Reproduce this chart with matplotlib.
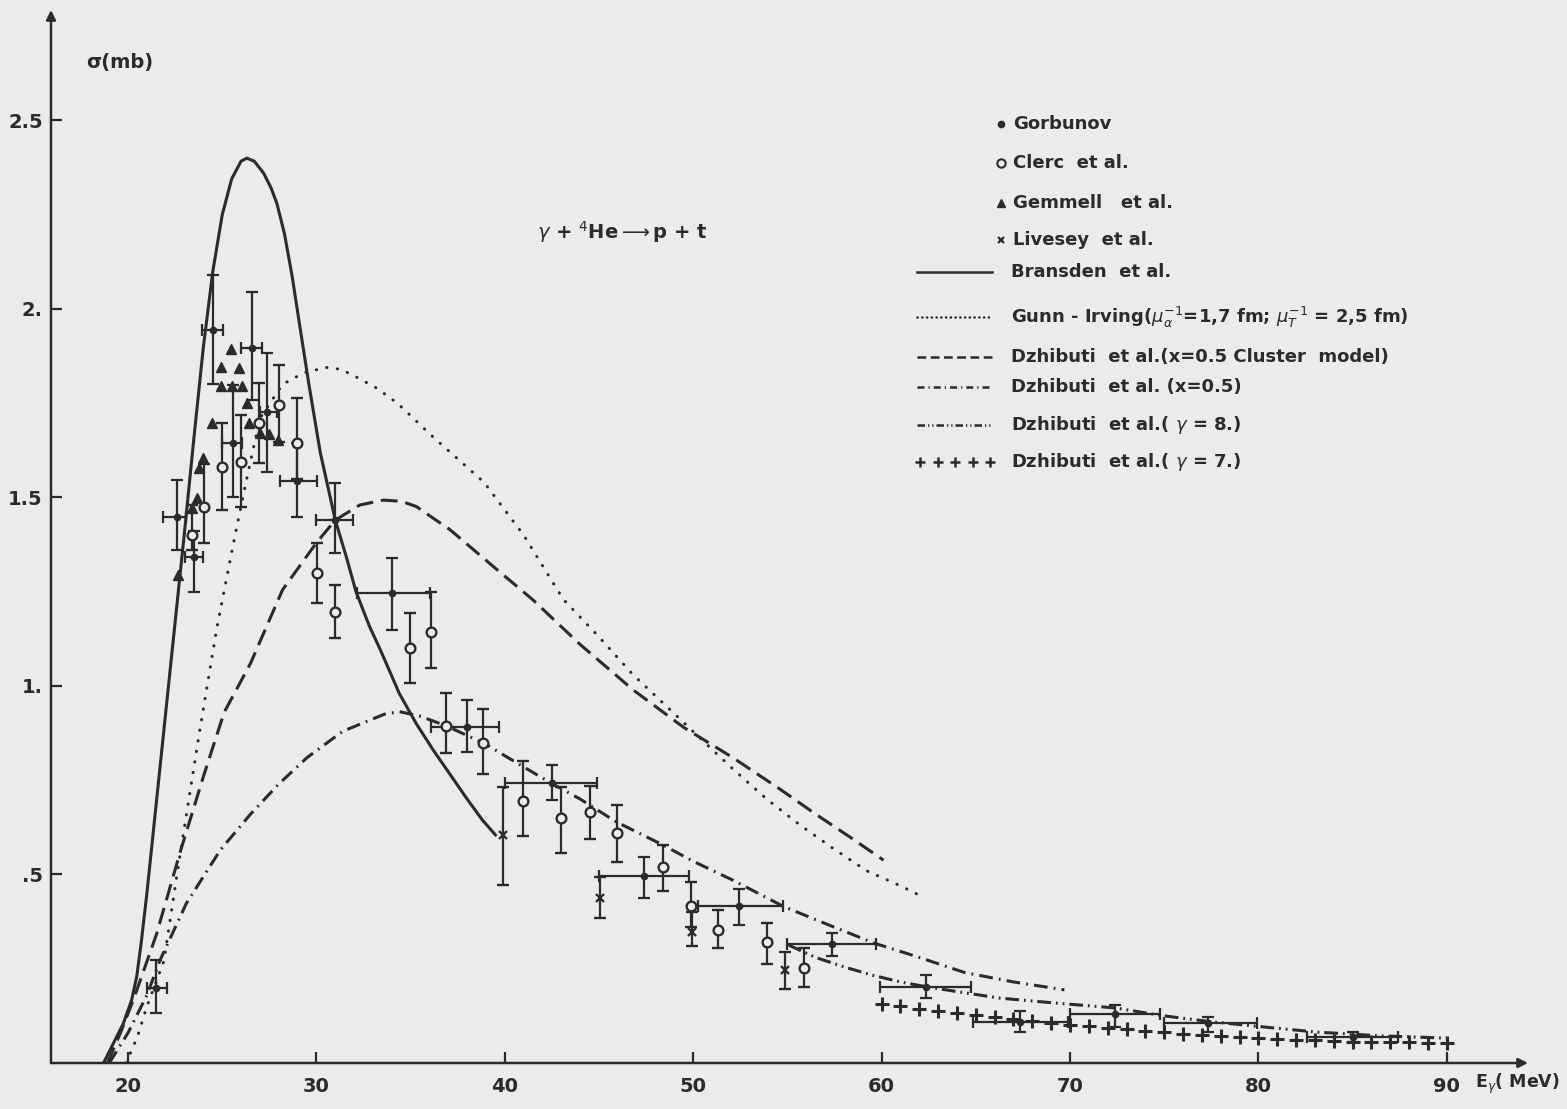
import numpy as np
import matplotlib.pyplot as plt
from matplotlib.lines import Line2D

plt.rcParams['font.family'] = ['DejaVu Sans']

ink = '#2b2b2b'
paper = '#ebebeb'

# ---- measured points -------------------------------------------------
# Gorbunov: energy, cross section, energy bin edges, sigma error limits
gor_E = [21.5, 22.58, 23.52, 24.53, 25.55, 26.57, 27.4, 28.95, 30.99, 34.0,
         37.98, 42.49, 47.4, 52.45, 57.35, 62.36, 67.35, 72.39, 77.35, 85.0]
gor_s = [0.20, 1.449, 1.343, 1.944, 1.645, 1.896, 1.726, 1.545, 1.44, 1.246,
         0.892, 0.744, 0.496, 0.416, 0.315, 0.202, 0.11, 0.13, 0.105, 0.068]
gor_E_lo = [20.99, 21.88, 23.03, 23.9, 24.97, 25.98, 27.0, 28.07, 30.0, 32.14,
            36.1, 40.01, 45.0, 50.27, 55.0, 59.9, 64.87, 70.0, 75.0, 82.6]
gor_E_hi = [22.05, 23.1, 24.0, 25.06, 26.03, 27.1, 27.9, 30.01, 31.96, 36.03,
            39.7, 44.88, 49.8, 54.78, 59.7, 64.73, 69.9, 74.8, 79.9, 87.4]
gor_s_lo = [0.132, 1.36, 1.25, 1.80, 1.502, 1.759, 1.568, 1.449, 1.352, 1.148,
            0.826, 0.698, 0.438, 0.366, 0.284, 0.172, 0.083, 0.096, 0.083, 0.055]
gor_s_hi = [0.273, 1.546, 1.41, 2.09, 1.798, 2.046, 1.883, 1.644, 1.538, 1.339,
            0.963, 0.79, 0.547, 0.461, 0.346, 0.233, 0.138, 0.154, 0.123, 0.082]

# Clerc et al.
clerc_E = [23.38, 24.05, 24.97, 25.98, 26.97, 28.02, 28.95, 30.01, 30.99, 34.97,
           36.08, 36.86, 38.86, 40.98, 42.97, 44.52, 45.94, 48.41, 49.88, 51.33,
           53.9, 55.9]
clerc_s = [1.40, 1.476, 1.58, 1.593, 1.697, 1.745, 1.644, 1.299, 1.197, 1.10,
           1.144, 0.894, 0.85, 0.695, 0.649, 0.665, 0.611, 0.519, 0.416, 0.353,
           0.322, 0.251]
clerc_lo = [1.36, 1.379, 1.467, 1.476, 1.591, 1.648, 1.55, 1.219, 1.126, 1.007,
            1.049, 0.821, 0.767, 0.602, 0.556, 0.593, 0.534, 0.456, 0.36, 0.304,
            0.263, 0.201]
clerc_hi = [1.48, 1.59, 1.697, 1.719, 1.803, 1.851, 1.763, 1.378, 1.268, 1.194,
            1.25, 0.982, 0.94, 0.80, 0.733, 0.735, 0.684, 0.578, 0.481, 0.406,
            0.371, 0.304]

# Gemmell et al.
gem_E = [25.47, 24.92, 25.91, 24.92, 25.54, 26.07, 26.3, 24.46, 26.42, 27.0,
         27.5, 27.98, 23.96, 23.78, 23.65, 23.38, 22.67]
gem_s = [1.894, 1.847, 1.843, 1.796, 1.796, 1.796, 1.75, 1.697, 1.697, 1.672,
         1.668, 1.653, 1.604, 1.577, 1.498, 1.471, 1.294]

# Livesey et al.
liv_E = [39.89, 45.05, 49.95, 54.87]
liv_s = [0.605, 0.437, 0.348, 0.247]
liv_lo = [0.472, 0.384, 0.31, 0.195]
liv_hi = [0.733, 0.494, 0.40, 0.295]

# ---- theoretical curves ---------------------------------------------
bran_E = [18.7, 19.22, 19.75, 20.19, 20.46, 20.7, 21.0, 21.5, 22.0, 22.5,
          23.0, 23.5, 24.0, 24.5, 25.0, 25.5, 26.0, 26.3, 26.7, 27.2, 27.6,
          27.9, 28.3, 28.7, 29.1, 29.6, 30.2, 31.0, 31.6, 32.1, 32.8, 33.4,
          34.4, 35.3, 36.2, 37.1, 38.0, 38.8, 39.5]
bran_s = [0.0, 0.052, 0.105, 0.167, 0.229, 0.32, 0.45, 0.69, 0.93, 1.17,
          1.41, 1.66, 1.90, 2.10, 2.25, 2.345, 2.392, 2.40, 2.392, 2.36, 2.32,
          2.28, 2.20, 2.09, 1.96, 1.80, 1.62, 1.44, 1.34, 1.25, 1.16, 1.095,
          0.98, 0.90, 0.83, 0.765, 0.70, 0.645, 0.605]

gunn_E = [19.9, 20.5, 21.0, 21.9, 22.8, 23.8, 24.7, 25.6, 26.3, 27.0, 28.2,
          29.3, 30.5, 31.3, 32.1, 33.2, 34.3, 36.2, 38.9, 41.0, 43.1, 45.0,
          46.8, 48.5, 50.4, 52.1, 53.9, 55.7, 57.4, 59.2, 61.0, 62.0]
gunn_s = [0.0, 0.07, 0.15, 0.27, 0.565, 0.88, 1.15, 1.38, 1.55, 1.71, 1.80,
          1.83, 1.845, 1.84, 1.82, 1.79, 1.75, 1.66, 1.54, 1.40, 1.23, 1.13,
          1.03, 0.95, 0.86, 0.78, 0.70, 0.63, 0.57, 0.51, 0.47, 0.445]

clus_E = [18.9, 19.6, 20.3, 21.5, 22.8, 24.0, 25.1, 26.5, 28.2, 30.0, 31.0,
          32.3, 33.55, 34.5, 35.3, 37.1, 39.6, 41.5, 44.0, 46.8, 49.5, 52.1,
          54.5, 56.5, 58.3, 60.1]
clus_s = [0.0, 0.08, 0.17, 0.34, 0.565, 0.76, 0.93, 1.06, 1.255, 1.38, 1.44,
          1.48, 1.493, 1.49, 1.476, 1.414, 1.308, 1.228, 1.11, 0.99, 0.89, 0.81,
          0.73, 0.66, 0.60, 0.538]

x05_E = [19.0, 20.0, 21.0, 21.7, 23.1, 24.9, 26.5, 28.0, 29.5, 31.4, 33.6,
         34.4, 35.5, 36.9, 38.9, 40.5, 42.4, 44.0, 45.9, 48.4, 50.0, 52.1,
         54.8, 57.0, 59.6, 62.0, 64.4, 67.0, 69.7]
x05_s = [0.0, 0.08, 0.18, 0.273, 0.424, 0.565, 0.66, 0.74, 0.81, 0.88, 0.925,
         0.932, 0.92, 0.894, 0.848, 0.80, 0.744, 0.70, 0.64, 0.578, 0.535, 0.485,
         0.415, 0.37, 0.318, 0.28, 0.24, 0.215, 0.194]

g8_E = [55.05, 56.5, 58.0, 59.5, 61.0, 62.4, 64.3, 66.3, 69.0, 72.4, 75.0,
        77.4, 80.0, 83.1, 86.5, 90.0]
g8_s = [0.313, 0.28, 0.255, 0.233, 0.215, 0.202, 0.187, 0.172, 0.16, 0.146,
        0.125, 0.11, 0.097, 0.082, 0.072, 0.066]

g7_E = list(range(60, 91))
g7_s = [0.157, 0.15, 0.144, 0.139, 0.133, 0.126, 0.121, 0.116, 0.112, 0.107,
        0.102, 0.098, 0.094, 0.09, 0.086, 0.082, 0.078, 0.075, 0.072, 0.069,
        0.066, 0.064, 0.062, 0.06, 0.058, 0.057, 0.056, 0.055, 0.055, 0.054,
        0.054]

xticks = [20, 30, 40, 50, 60, 70, 80, 90]
yticks = [0.5, 1.0, 1.5, 2.0, 2.5]
ytick_labels = ['.5', '1.', '1.5', '2.', '2.5']

# ---- styles ----------------------------------------------------------
lw = 2.2
st_solid = '-'
st_dot = (0, (0.1, 3.4))
st_dash = (0, (5.5, 2.6))
st_dashdot = (0, (4.5, 2.0, 0.6, 2.0))
st_dashdotdot = (0, (4.5, 1.6, 0.6, 1.6, 0.6, 1.6))

W, H = 1567, 1109
fig = plt.figure(figsize=(W / 100, H / 100), dpi=100, facecolor=paper)
ax = fig.add_axes([51 / W, 1 - 1063 / H, (1528 - 51) / W, (1063 - 10) / H])
ax.set_facecolor(paper)
ax.set_xlim(15.91, 94.31)
ax.set_ylim(0, 2.793)

for sp in ax.spines.values():
    sp.set_visible(False)
arrow = dict(arrowstyle='-|>', color=ink, lw=1.8, mutation_scale=14,
             shrinkA=0, shrinkB=0)
ax.annotate('', xy=(1, 0), xytext=(0, 0), xycoords='axes fraction', arrowprops=arrow)
ax.annotate('', xy=(0, 1), xytext=(0, 0), xycoords='axes fraction', arrowprops=arrow)

ax.set_xticks(xticks)
ax.set_xticklabels([str(t) for t in xticks])
ax.set_yticks(yticks)
ax.set_yticklabels(ytick_labels)
ax.tick_params(direction='in', length=8, width=1.6, color=ink, labelcolor=ink,
               labelsize=14)
ax.tick_params(axis='x', pad=10)
ax.tick_params(axis='y', pad=6)
for lab in ax.get_xticklabels() + ax.get_yticklabels():
    lab.set_fontweight('bold')

# curves
ax.plot(bran_E, bran_s, color=ink, lw=lw, ls=st_solid)
ax.plot(gunn_E, gunn_s, color=ink, lw=lw, ls=st_dot, dash_capstyle='round')
ax.plot(clus_E, clus_s, color=ink, lw=lw, ls=st_dash)
ax.plot(x05_E, x05_s, color=ink, lw=lw, ls=st_dashdot)
ax.plot(g8_E, g8_s, color=ink, lw=lw, ls=st_dashdotdot)
ax.plot(g7_E, g7_s, ls='none', marker='+', ms=10, mew=2.2, color=ink)

# data
E = np.array(gor_E)
s = np.array(gor_s)
ax.errorbar(E, s, xerr=[E - np.array(gor_E_lo), np.array(gor_E_hi) - E],
            yerr=[s - np.array(gor_s_lo), np.array(gor_s_hi) - s],
            fmt='o', ms=4.5, color=ink, elinewidth=1.6, capsize=4, capthick=1.6)

E = np.array(clerc_E)
s = np.array(clerc_s)
ax.errorbar(E, s, yerr=[s - np.array(clerc_lo), np.array(clerc_hi) - s],
            fmt='o', ms=7, mfc=paper, mec=ink, mew=1.7, color=ink,
            elinewidth=1.6, capsize=4, capthick=1.6)

ax.plot(gem_E, gem_s, ls='none', marker='^', ms=7, color=ink)

E = np.array(liv_E)
s = np.array(liv_s)
ax.errorbar(E, s, yerr=[s - np.array(liv_lo), np.array(liv_hi) - s],
            fmt='x', ms=6, mew=1.7, color=ink, elinewidth=1.6, capsize=4,
            capthick=1.6)

# labels
ax.text(17.75, 2.655, 'σ(mb)', fontsize=14, fontweight='bold', color=ink,
        va='center', ha='left')
ax.text(91.5, -0.055, r'E$_\gamma$( MeV)', fontsize=12.5, fontweight='bold',
        color=ink, va='center', ha='left', clip_on=False)
ax.text(41.7, 2.205, r'$\gamma$ + $^4$He$\longrightarrow$p + t', fontsize=14,
        fontweight='bold', color=ink, va='center', ha='left')

# legend, drawn in figure pixels
def fx(px):
    return px / W

def fy(py):
    return 1 - py / H

rows = [
    ('Gorbunov', 'mark', dict(marker='o', ms=4.5, color=ink), 124),
    ('Clerc  et al.', 'mark', dict(marker='o', ms=6, mfc=paper, mec=ink, mew=1.5), 163),
    ('Gemmell   et al.', 'mark', dict(marker='^', ms=6, color=ink), 203),
    ('Livesey  et al.', 'mark', dict(marker='x', ms=5, mew=1.6, color=ink), 240),
    ('Bransden  et al.', 'line', dict(ls=st_solid), 272),
    (r'Gunn - Irving($\mu_{\alpha}^{-1}$=1,7 fm; $\mu_{T}^{-1}$ = 2,5 fm)', 'line',
     dict(ls=(0, (0.1, 1.8)), dash_capstyle='round'), 317),
    ('Dzhibuti  et al.(x=0.5 Cluster  model)', 'line', dict(ls=(0, (3.5, 1.8))), 357),
    ('Dzhibuti  et al. (x=0.5)', 'line', dict(ls=(0, (2.8, 1.6, 0.5, 1.6))), 387),
    (r'Dzhibuti  et al.( $\gamma$ = 8.)', 'line',
     dict(ls=(0, (3.0, 1.2, 0.5, 1.2, 0.5, 1.2))), 425),
    (r'Dzhibuti  et al.( $\gamma$ = 7.)', 'plus', None, 462),
]
for text, kind, style, py in rows:
    if kind == 'mark':
        fig.add_artist(Line2D([fx(1001)], [fy(py)], ls='none', **style))
        tx = 1013
    elif kind == 'line':
        fig.add_artist(Line2D([fx(917), fx(992)], [fy(py), fy(py)], color=ink,
                              lw=1.8, **style))
        tx = 1011
    else:
        fig.add_artist(Line2D([fx(p) for p in np.linspace(920, 990, 5)],
                              [fy(py)] * 5, ls='none', marker='+', ms=7,
                              mew=1.8, color=ink))
        tx = 1011
    fig.text(fx(tx), fy(py), text, fontsize=13, fontweight='bold', color=ink,
             va='center', ha='left')

fig.savefig('out.png', dpi=100, facecolor=paper)
